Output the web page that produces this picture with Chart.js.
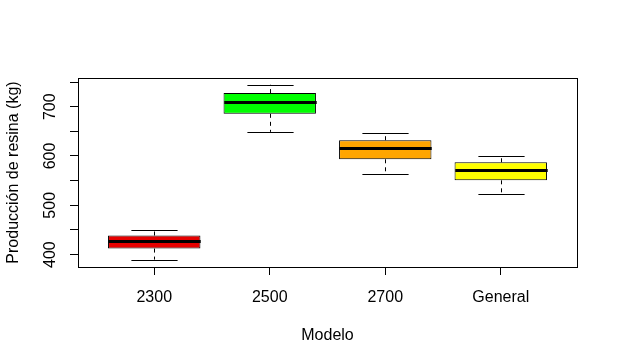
<!DOCTYPE html>
<html><head><meta charset="utf-8">
<script src="https://cdn.jsdelivr.net/npm/chart.js@4/dist/chart.umd.min.js"></script>
<style>html,body{margin:0;padding:0;background:#fff}#wrap{width:618px;height:364px}</style>
</head><body><div id="wrap"><canvas id="c" width="618" height="364"></canvas></div>
<script>
const categories = ['2300', '2500', '2700', 'General'];
const whiskerLow = [389.8, 648.9, 563.4, 523.3];
const q1 = [412.2, 685.5, 593.3, 550.6];
const median = [427.1, 709.3, 615.7, 570.9];
const q3 = [438.7, 727.6, 632.0, 587.2];
const whiskerHigh = [449.5, 744.5, 646.2, 600.0];
const boxColors = ['#E60000', '#00FF00', '#FFA500', '#FFFF00'];
const yTickValues = [400, 450, 500, 550, 600, 650, 700, 750];
const yTickLabels = ['400', '', '500', '', '600', '', '700', ''];

const FONT = "'Liberation Sans', Arial, sans-serif";

const boxplotPlugin = {
  id: 'boxplotExtras',
  afterDatasetsDraw(chart) {
    const ctx = chart.ctx;
    const xs = chart.scales.x, ys = chart.scales.y;
    ctx.save();
    ctx.strokeStyle = '#000';
    categories.forEach((c, i) => {
      const cx = Math.round(xs.getPixelForValue(i + 1)) + 0.5;
      const halfBox = (xs.getPixelForValue(i + 1.4) - xs.getPixelForValue(i + 1));
      const halfCap = halfBox / 2;
      const yLo = ys.getPixelForValue(whiskerLow[i]);
      const yQ1 = ys.getPixelForValue(q1[i]);
      const yMed = ys.getPixelForValue(median[i]);
      const yQ3 = ys.getPixelForValue(q3[i]);
      const yHi = ys.getPixelForValue(whiskerHigh[i]);
      ctx.lineWidth = 1;
      ctx.setLineDash([4, 4]);
      ctx.beginPath();
      ctx.moveTo(cx, yQ3); ctx.lineTo(cx, yHi);
      ctx.moveTo(cx, yQ1); ctx.lineTo(cx, yLo);
      ctx.stroke();
      ctx.setLineDash([]);
      ctx.beginPath();
      const a = Math.round(yHi) + 0.5, b = Math.round(yLo) + 0.5;
      ctx.moveTo(cx - halfCap, a); ctx.lineTo(cx + halfCap, a);
      ctx.moveTo(cx - halfCap, b); ctx.lineTo(cx + halfCap, b);
      ctx.stroke();
      ctx.lineWidth = 3;
      ctx.beginPath();
      ctx.moveTo(cx - halfBox, Math.round(yMed) + 0.5);
      ctx.lineTo(cx + halfBox, Math.round(yMed) + 0.5);
      ctx.stroke();
    });
    ctx.restore();
  },
  afterDraw(chart) {
    const {left, top, right, bottom} = chart.chartArea;
    const ctx = chart.ctx;
    ctx.save();
    ctx.strokeStyle = '#000';
    ctx.lineWidth = 1;
    ctx.strokeRect(Math.round(left) + 0.5, Math.round(top) + 0.5, Math.round(right - left), Math.round(bottom - top));
    ctx.restore();
  }
};

new Chart(document.getElementById('c'), {
  type: 'bar',
  data: {
    datasets: [{
      data: categories.map((c, i) => ({x: i + 1, y: [q1[i], q3[i]]})),
      backgroundColor: boxColors,
      borderColor: '#000',
      borderWidth: 1,
      borderSkipped: false,
      barPercentage: 0.8,
      categoryPercentage: 1
    }]
  },
  options: {
    responsive: false,
    animation: false,
    devicePixelRatio: 1,
    layout: {padding: {left: 0, top: 78, right: 41, bottom: 0}},
    plugins: {legend: {display: false}, tooltip: {enabled: false}},
    scales: {
      x: {
        type: 'linear',
        offset: false,
        min: 0.34, max: 4.66,
        afterBuildTicks(scale) { scale.ticks = categories.map((c, i) => ({value: i + 1})); },
        afterFit(scale) { scale.height = 97; },
        ticks: {
          callback: (v) => categories[v - 1] !== undefined ? categories[v - 1] : '',
          color: '#000', font: {family: FONT, size: 16}, padding: 13, maxRotation: 0, autoSkip: false
        },
        grid: {drawOnChartArea: false, offset: false, tickLength: 8, color: '#000'},
        border: {display: false},
        title: {display: true, text: 'Modelo', color: '#000', font: {family: FONT, size: 16}, padding: {top: 0, bottom: 19}}
      },
      y: {
        type: 'linear',
        min: 374.8, max: 758.2,
        afterBuildTicks(scale) { scale.ticks = yTickValues.map(v => ({value: v})); },
        afterFit(scale) { scale.width = 78; },
        ticks: {
          callback: (v) => { const k = yTickValues.indexOf(v); return k >= 0 ? yTickLabels[k] : ''; },
          color: '#000', font: {family: FONT, size: 16}, padding: 6,
          minRotation: 90, maxRotation: 90, crossAlign: 'center', autoSkip: false
        },
        grid: {drawOnChartArea: false, tickLength: 8, color: '#000'},
        border: {display: false},
        title: {display: true, text: 'Producción de resina (kg)', color: '#000', font: {family: FONT, size: 16}, padding: {top: 4, bottom: 0}}
      }
    }
  },
  plugins: [boxplotPlugin]
});
</script>
</body></html>
